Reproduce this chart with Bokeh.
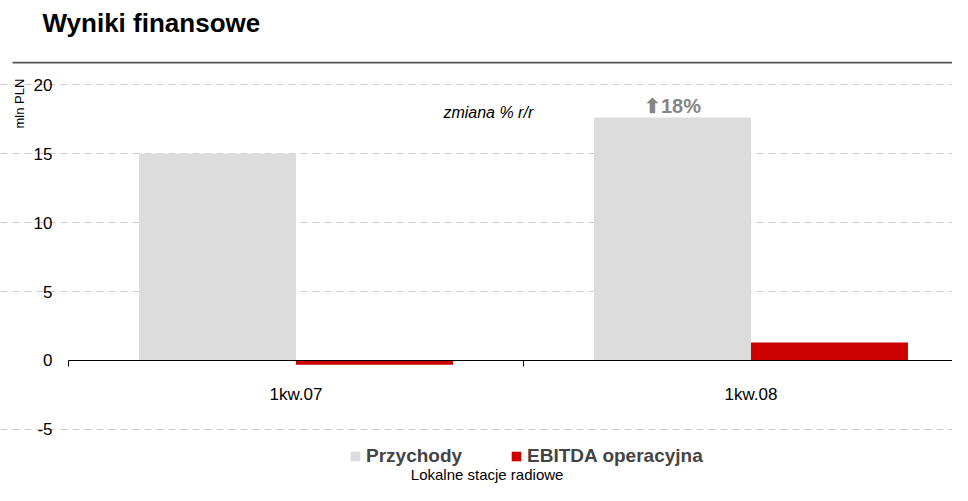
import math
from bokeh.plotting import figure
from bokeh.models import (ColumnDataSource, Range1d, FixedTicker, Label,
                          Legend, LegendItem, BoxAnnotation)
from bokeh.transform import dodge
from bokeh.core.properties import value
from bokeh.embed import file_html
from bokeh.resources import INLINE

# ---- data ----
categories = ["1kw.07", "1kw.08"]
przychody = [15.0, 17.6]
ebitda = [-0.3, 1.3]
change_labels = ["", "\u2b0618%"]
yticks = [-5, 0, 5, 10, 15, 20]

FONT = "Liberation Sans"
BW = 0.345

xs = [i + 0.5 for i in range(len(categories))]
bounds = list(range(len(categories) + 1))
src = ColumnDataSource(dict(x=xs, cat=categories, przychody=przychody,
                            ebitda=ebitda, chg=change_labels))

p = figure(width=952, height=485, output_backend="svg", toolbar_location=None,
           x_range=Range1d(-0.14945, 1.94286), y_range=Range1d(-9.058, 26.087),
           min_border_left=0, min_border_right=0, min_border_top=0, min_border_bottom=0)
p.outline_line_color = None
p.background_fill_color = "white"

# y axis (fixed inside the frame at x = 0)
ax = p.yaxis[0]
ax.fixed_location = 0
ax.ticker = FixedTicker(ticks=yticks)
ax.major_label_overrides = {t: str(t) for t in yticks}
ax.axis_line_color = None
ax.major_tick_line_color = None
ax.minor_tick_line_color = None
ax.major_tick_out = 0
ax.major_tick_in = 0
ax.major_label_standoff = 16
ax.major_label_text_font = FONT
ax.major_label_text_font_size = "17px"
ax.major_label_text_color = "black"

# x axis at y = 0: category labels at centres, ticks at category boundaries
xa = p.xaxis[0]
xa.fixed_location = 0
xa.ticker = FixedTicker(ticks=xs, minor_ticks=bounds)
xa.major_label_overrides = {x: c for x, c in zip(xs, categories)}
xa.bounds = (0, 2)
xa.axis_line_color = "black"
xa.axis_line_width = 1.2
xa.major_tick_line_color = None
xa.major_tick_out = 0
xa.major_tick_in = 0
xa.minor_tick_line_color = "black"
xa.minor_tick_out = 6
xa.minor_tick_in = 0
xa.major_label_standoff = 19
xa.major_label_text_font = FONT
xa.major_label_text_font_size = "17px"
xa.major_label_text_color = "black"

p.xgrid.visible = False
p.ygrid.ticker = FixedTicker(ticks=[t for t in yticks if t != 0])
p.ygrid.bounds = (0, 2)
p.ygrid.grid_line_color = "#cccccc"
p.ygrid.grid_line_dash = "7 5"
p.ygrid.grid_line_width = 1

# bars
r1 = p.vbar(x=dodge('x', -BW / 2), width=BW, top='przychody', bottom=0, source=src,
            fill_color="#dcdcdc", line_color=None)
r2 = p.vbar(x=dodge('x', BW / 2), width=BW, top='ebitda', bottom=0, source=src,
            fill_color="#cc0000", line_color=None)

# change label above revenue bar
p.text(x=dodge('x', -BW / 2), y='przychody', text='chg', source=src, y_offset=-12,
       text_align='center', text_baseline='middle', text_font=value(FONT),
       text_font_size='20px', text_font_style='bold', text_color="#858585")

# legend
legend = Legend(items=[LegendItem(label="Przychody", renderers=[r1]),
                       LegendItem(label="EBITDA operacyjna", renderers=[r2])],
                orientation='horizontal', location=(349, 18), padding=0, margin=0,
                spacing=48, glyph_width=12, glyph_height=12, label_standoff=5,
                label_text_font=FONT, label_text_font_size='19px',
                label_text_font_style='bold', border_line_color=None,
                background_fill_alpha=0)
p.add_layout(legend, 'center')

# annotations
p.add_layout(Label(x=-0.0571, y=24.44, text="Wyniki finansowe", text_font=FONT,
                   text_font_style="bold", text_font_size="26px",
                   text_baseline="middle", text_color="black"))
p.add_layout(BoxAnnotation(left=-0.1231, right=2, top=21.64, bottom=21.52,
                           fill_color="#555555", fill_alpha=1, line_color=None))
p.add_layout(Label(x=-0.1066, y=18.62, text="mln PLN", angle=math.pi / 2,
                   text_align="center", text_baseline="middle", text_font=FONT,
                   text_font_size="13px", text_color="black"))
p.add_layout(Label(x=0.824, y=17.97, text="zmiana % r/r", text_font=FONT,
                   text_font_style="italic", text_font_size="16px",
                   text_baseline="middle", text_color="black"))
p.add_layout(Label(x=0.92, y=-8.913, text="Lokalne stacje radiowe", text_font=FONT,
                   text_font_size="15px", text_align="center",
                   text_baseline="bottom", text_color="black"))

open("out.html", "w").write(file_html(p, INLINE))
